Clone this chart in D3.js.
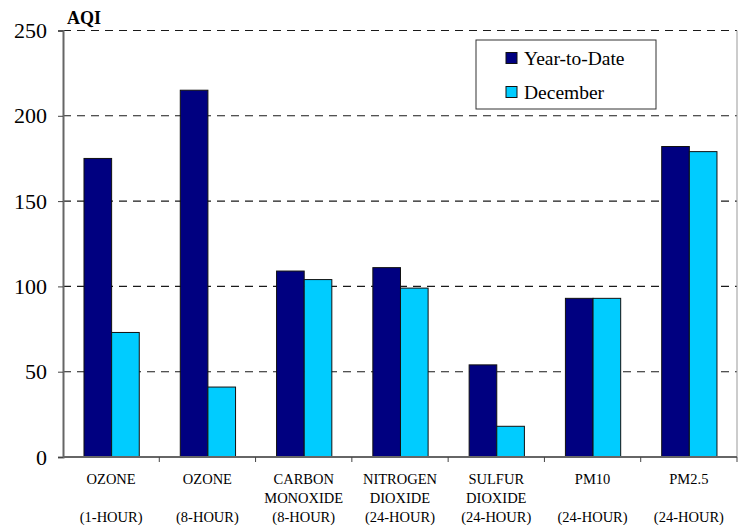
<!DOCTYPE html>
<html>
<head>
<meta charset="utf-8">
<script src="https://cdn.jsdelivr.net/npm/d3@7"></script>
<style>
  html, body { margin: 0; padding: 0; background: #fff; }
  svg { display: block; font-family: "Liberation Serif", "Times New Roman", Times, serif; }
  svg text { font-family: "Liberation Serif", "Times New Roman", Times, serif !important; fill: #000; }
</style>
</head>
<body>
<svg id="chart" width="744" height="525"></svg>
<script>
// Pollutant categories (label lines) and AQI values
const categories = ["OZONE-1", "OZONE-8", "CO", "NO2", "SO2", "PM10", "PM25"];
const categoryLines = [
  ["OZONE", "", "(1-HOUR)"],
  ["OZONE", "", "(8-HOUR)"],
  ["CARBON", "MONOXIDE", "(8-HOUR)"],
  ["NITROGEN", "DIOXIDE", "(24-HOUR)"],
  ["SULFUR", "DIOXIDE", "(24-HOUR)"],
  ["PM10", "", "(24-HOUR)"],
  ["PM2.5", "", "(24-HOUR)"]
];
const seriesNames = ["Year-to-Date", "December"];
const yearToDate = [175, 215, 109, 111, 54, 93, 182];
const december = [73, 41, 104, 99, 18, 93, 179];
const yTicks = [0, 50, 100, 150, 200, 250];
const colors = ["#000080", "#00CCFF"];

const serif = "'Liberation Serif', 'Times New Roman', Times, serif";
const svg = d3.select("#chart");
const plotLeft = 63, plotRight = 737, plotTop = 30.5, plotBottom = 457;

const x = d3.scaleBand().domain(categories).range([plotLeft, plotRight]).padding(0);
const bw = x.bandwidth();
const x1 = d3.scaleBand().domain(seriesNames).range([bw * 0.218, bw * 0.792]).padding(0);
const y = d3.scaleLinear().domain([0, 250]).range([plotBottom, plotTop]);

// Dashed gridlines
svg.append("g").selectAll("line")
  .data(yTicks.filter(t => t > 0))
  .join("line")
  .attr("x1", plotLeft).attr("x2", plotRight)
  .attr("y1", d => y(d)).attr("y2", d => y(d))
  .attr("stroke", "#1a1a1a").attr("stroke-width", 1.1)
  .attr("stroke-dasharray", "8,6");

// Right border
svg.append("line")
  .attr("x1", plotRight).attr("x2", plotRight)
  .attr("y1", y(250)).attr("y2", plotBottom)
  .attr("stroke", "#999").attr("stroke-width", 1);

// Bars
const data = categories.map((c, i) => ({ cat: c, vals: [yearToDate[i], december[i]] }));
const groups = svg.append("g").selectAll("g")
  .data(data).join("g")
  .attr("transform", d => `translate(${x(d.cat)},0)`);
groups.selectAll("rect")
  .data(d => d.vals.map((v, j) => ({ s: seriesNames[j], v, j })))
  .join("rect")
  .attr("x", d => x1(d.s))
  .attr("y", d => y(d.v))
  .attr("width", x1.bandwidth())
  .attr("height", d => plotBottom - y(d.v))
  .attr("fill", d => colors[d.j])
  .attr("stroke", "#111")
  .attr("stroke-width", 1);

// Y axis
const yAxis = d3.axisLeft(y).tickValues(yTicks).tickSize(5).tickPadding(11).tickFormat(d3.format("d"));
const gy = svg.append("g").attr("transform", `translate(${plotLeft},0)`).call(yAxis)
  .attr("font-family", serif).attr("font-size", 22);
gy.select(".domain").attr("stroke", "#666").attr("stroke-width", 2);
gy.selectAll(".tick line").attr("stroke", "#444").attr("stroke-width", 1);
gy.selectAll(".tick text").style("font-family", serif).style("font-size", "22px").attr("fill", "#000");

// X axis with ticks between categories
const boundaries = d3.range(categories.length + 1).map(i => plotLeft + i * bw);
svg.append("line")
  .attr("x1", plotLeft).attr("x2", plotRight)
  .attr("y1", plotBottom).attr("y2", plotBottom)
  .attr("stroke", "#666").attr("stroke-width", 2);
svg.append("g").selectAll("line")
  .data(boundaries.slice(1))
  .join("line")
  .attr("x1", d => d).attr("x2", d => d)
  .attr("y1", plotBottom).attr("y2", plotBottom + 5)
  .attr("stroke", "#444").attr("stroke-width", 1);

// Category labels
const lab = svg.append("g").selectAll("text")
  .data(categories.map((c, i) => ({ c, lines: categoryLines[i] })))
  .join("text")
  .attr("text-anchor", "middle")
  .style("font-family", serif)
  .style("font-size", "14.5px");
lab.selectAll("tspan")
  .data(d => d.lines.map(l => ({ l, cx: x(d.c) + bw / 2 })))
  .join("tspan")
  .attr("x", d => d.cx)
  .attr("y", (d, i) => 484 + i * 19)
  .text(d => d.l);

// Axis title
svg.append("text")
  .attr("x", 67).attr("y", 24)
  .style("font-family", serif)
  .style("font-size", "18px").style("font-weight", "bold")
  .text("AQI");

// Legend
const lg = svg.append("g");
lg.append("rect")
  .attr("x", 476).attr("y", 40).attr("width", 180).attr("height", 69)
  .attr("fill", "#fff").attr("stroke", "#333").attr("stroke-width", 1);
const items = lg.selectAll("g.item")
  .data(seriesNames.map((s, i) => ({ s, i })))
  .join("g").attr("class", "item")
  .attr("transform", d => `translate(506,${58 + d.i * 34})`);
items.append("rect")
  .attr("x", 0).attr("y", -5.5).attr("width", 11).attr("height", 11)
  .attr("fill", d => colors[d.i]).attr("stroke", "#111").attr("stroke-width", 1);
items.append("text")
  .attr("x", 18).attr("y", 6.5)
  .style("font-family", serif)
  .style("font-size", "19.5px")
  .text(d => d.s);
</script>
</body>
</html>
